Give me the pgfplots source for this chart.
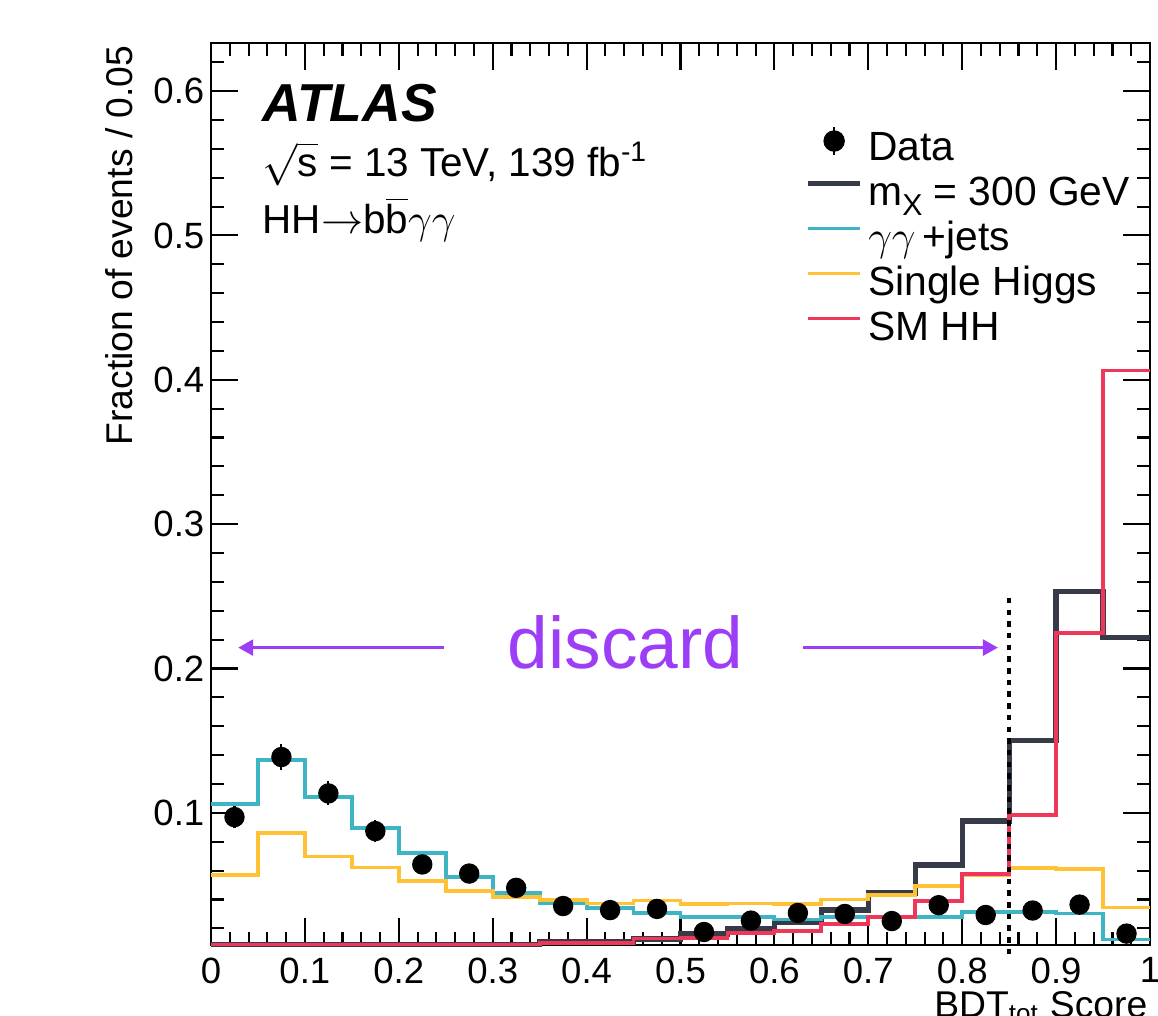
\documentclass[border=0pt]{standalone}
\usepackage{fontspec}
\setmainfont{Liberation Sans}
\usepackage{pgfplots}
\pgfplotsset{compat=1.18}
\usetikzlibrary{arrows.meta}
\definecolor{cdark}{RGB}{55,59,71}
\definecolor{ccyan}{RGB}{62,181,197}
\definecolor{cyell}{RGB}{255,194,54}
\definecolor{cred}{RGB}{239,55,90}
\definecolor{cpurp}{RGB}{157,62,246}

\pgfplotstableread{
x      y       e
0.025  0.0971  0.0077
0.075  0.1387  0.0090
0.125  0.1135  0.0083
0.175  0.0874  0.0076
0.225  0.0643  0.0060
0.275  0.0580  0.0055
0.325  0.0481  0.0050
0.375  0.0355  0.0045
0.425  0.0327  0.0043
0.475  0.0335  0.0043
0.525  0.0175  0.0030
0.575  0.0254  0.0038
0.625  0.0307  0.0040
0.675  0.0300  0.0040
0.725  0.0251  0.0038
0.775  0.0361  0.0045
0.825  0.0293  0.0040
0.875  0.0324  0.0043
0.925  0.0365  0.0045
0.975  0.0164  0.0030
}\datatable

\begin{document}
\begin{tikzpicture}
\begin{axis}[
  width=93.9mm, height=90.2mm, scale only axis,
  xmin=0, xmax=1, ymin=0.0085, ymax=0.6333,
  clip=false,
  axis line style={line width=0.7pt},
  xtick={0,0.1,0.2,0.3,0.4,0.5,0.6,0.7,0.8,0.9,1},
  ytick={0.1,0.2,0.3,0.4,0.5,0.6},
  minor xtick={0.02,0.04,0.06,0.08,0.12,0.14,0.16,0.18,0.22,0.24,0.26,0.28,0.32,0.34,0.36,0.38,0.42,0.44,0.46,0.48,0.52,0.54,0.56,0.58,0.62,0.64,0.66,0.68,0.72,0.74,0.76,0.78,0.82,0.84,0.86,0.88,0.92,0.94,0.96,0.98},
  minor ytick={0.02,0.04,0.06,0.08,0.12,0.14,0.16,0.18,0.22,0.24,0.26,0.28,0.32,0.34,0.36,0.38,0.42,0.44,0.46,0.48,0.52,0.54,0.56,0.58,0.62},
  major tick length=2.7mm, minor tick length=1.35mm,
  tick style={black, line width=0.6pt},
  tick label style={font=\fontsize{10.4}{12}\selectfont},
  /pgf/number format/assume math mode=true,
  yticklabel style={inner xsep=0.6mm},
  xticklabel style={inner ysep=1.2mm},
  legend cell align=left,
  legend style={draw=none, fill=none, at={(rel axis cs:0.6326,0.908)}, anchor=north west,
    inner sep=0pt, outer sep=0pt, row sep=0.8mm,
    font=\fontsize{11.6}{13}\selectfont,
    nodes={inner sep=0pt, text height=2.9mm, text depth=0.8mm},
    /tikz/every odd column/.style={column sep=0.6mm}},
  legend image code/.code={\draw[#1] (0mm,1.1mm) -- (5.2mm,1.1mm);},
]
% legend entries
\addlegendimage{legend image code/.code={\draw[black,line width=0.6pt] (2.65mm,-0.55mm) -- (2.65mm,2.25mm); \fill[black] (2.65mm,0.85mm) circle (1mm);}}
\addlegendentry{Data}
\addlegendimage{cdark, line width=1.5pt}
\addlegendentry{m\raisebox{-1mm}{\fontsize{8.6}{9}\selectfont X} = 300 GeV}
\addlegendimage{ccyan, line width=1.1pt}
\addlegendentry{$\gamma\gamma$\,+jets}
\addlegendimage{cyell, line width=1.1pt}
\addlegendentry{Single Higgs}
\addlegendimage{cred, line width=1.1pt}
\addlegendentry{SM HH}

% m_X = 300 GeV
\addplot[const plot, cdark, line width=1.5pt, forget plot] coordinates {
(0,0.009) (0.05,0.009) (0.1,0.009) (0.15,0.009) (0.2,0.009) (0.25,0.009) (0.3,0.009)
(0.35,0.0106) (0.4,0.0106) (0.45,0.0127) (0.5,0.0162) (0.55,0.0196) (0.6,0.0244)
(0.65,0.0327) (0.7,0.0446) (0.75,0.0639) (0.8,0.0944) (0.85,0.150) (0.9,0.2533)
(0.95,0.2213) (1,0.2213)};
% gamma gamma + jets
\addplot[const plot, ccyan, line width=1.1pt, forget plot] coordinates {
(0,0.1063) (0.05,0.1364) (0.1,0.1112) (0.15,0.0898) (0.2,0.0722) (0.25,0.0557)
(0.3,0.0446) (0.35,0.0378) (0.4,0.0341) (0.45,0.0307) (0.5,0.0279) (0.55,0.0282)
(0.6,0.0262) (0.65,0.0280) (0.7,0.0276) (0.75,0.0279) (0.8,0.0316) (0.85,0.0312)
(0.9,0.0303) (0.95,0.0123) (1,0.0123)};
% single Higgs
\addplot[const plot, cyell, line width=1.1pt, forget plot] coordinates {
(0,0.0569) (0.05,0.0861) (0.1,0.0698) (0.15,0.0622) (0.2,0.0530) (0.25,0.0462)
(0.3,0.0418) (0.35,0.0396) (0.4,0.0373) (0.45,0.0393) (0.5,0.0370) (0.55,0.0373)
(0.6,0.0370) (0.65,0.0400) (0.7,0.0430) (0.75,0.0493) (0.8,0.0572) (0.85,0.0617)
(0.9,0.0612) (0.95,0.0345) (1,0.0345)};
% SM HH
\addplot[const plot, cred, line width=1.1pt, forget plot] coordinates {
(0,0.0089) (0.05,0.0089) (0.1,0.0089) (0.15,0.0089) (0.2,0.0089) (0.25,0.0089) (0.3,0.0089)
(0.35,0.0099) (0.4,0.0099) (0.45,0.0130) (0.5,0.0134) (0.55,0.0169) (0.6,0.0185)
(0.65,0.0231) (0.7,0.0279) (0.75,0.0389) (0.8,0.0574) (0.85,0.0985) (0.9,0.2247)
(0.95,0.4064) (1,0.4064)};
% Data
\addplot[only marks, mark=*, mark size=0.95mm, black, forget plot,
  error bars/.cd, y dir=both, y explicit, error mark=none,
  error bar style={line width=0.6pt, black}]
  table[x=x, y=y, y error=e] {\datatable};

% cut line
\draw[black, line width=1pt, dash pattern=on 0.55mm off 0.62mm] (axis cs:0.85,0.249) -- (axis cs:0.85,0.0);
% discard arrows
\draw[cpurp, line width=0.75pt, -{Triangle[length=1.5mm,width=1.6mm]}] (axis cs:0.248,0.2145) -- (axis cs:0.029,0.2145);
\draw[cpurp, line width=0.75pt, -{Triangle[length=1.5mm,width=1.6mm]}] (axis cs:0.630,0.2145) -- (axis cs:0.838,0.2145);
\node[cpurp, anchor=base, inner sep=0pt, font=\fontsize{20.8}{24}\selectfont] at (axis cs:0.4414,0.1999) {discard};

% labels
\node[anchor=base west, inner sep=0pt, font=\fontsize{15.2}{18}\selectfont\bfseries\itshape] at (axis cs:0.0543,0.5787) {ATLAS};
\node[anchor=base west, inner sep=0pt, font=\fontsize{11.5}{14}\selectfont] at (axis cs:0.0543,0.5405) {$\sqrt{\mbox{s}}$ = 13 TeV, 139 fb\textsuperscript{-1}};
\node[anchor=base west, inner sep=0pt, font=\fontsize{11.5}{14}\selectfont] at (axis cs:0.0543,0.5013) {HH$\rightarrow$b$\overline{\mbox{b}}\gamma\gamma$};

\node[rotate=90, anchor=base east, inner sep=0pt, font=\fontsize{10.6}{12}\selectfont] at ([xshift=-7.8mm,yshift=-0.2mm]rel axis cs:0,1) {Fraction of events / 0.05};
\node[anchor=base east, inner sep=0pt, font=\fontsize{10.6}{12}\selectfont] at ([xshift=-0.2mm,yshift=-7.2mm]rel axis cs:1,0) {BDT\textsubscript{tot} Score};

\coordinate (LL) at (rel axis cs:0,0);
\coordinate (UR) at (rel axis cs:1,1);
\end{axis}
\pgfresetboundingbox
\path[use as bounding box] ([xshift=-21.1mm,yshift=-7.0mm]LL) rectangle ([xshift=0.8mm,yshift=4.3mm]UR);
\end{tikzpicture}
\end{document}
